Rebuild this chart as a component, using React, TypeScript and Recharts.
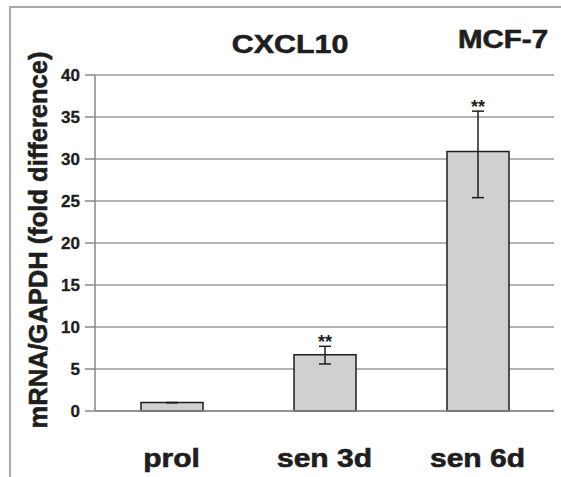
import React from "react";
import {
  BarChart,
  Bar,
  XAxis,
  YAxis,
  CartesianGrid,
  ErrorBar,
  LabelList,
} from "recharts";

// Expression data (fold difference vs. proliferating cells)
const categories = ["prol", "sen 3d", "sen 6d"];
const foldValues = [1, 6.7, 30.9];
const errLow = [0, 1.1, 5.5];
const errHigh = [0, 1.0, 4.8];
const significance = ["", "**", "**"];
const yTicks = [0, 5, 10, 15, 20, 25, 30, 35, 40];
const edgeTicks = [0, 1, 2, 3];

const chartData = categories.map((name, i) => ({
  name,
  value: foldValues[i],
  err: [errLow[i], errHigh[i]],
  stars: significance[i],
}));

const FONT = "'Liberation Sans', Arial, Helvetica, sans-serif";
const INK = "#1e1e1e";
const AXIS = "#8a8a8a";

const CategoryTick = (props: any) => {
  const { x, payload } = props;
  return (
    <text
      transform={`translate(${x},467) scale(1.2,1)`}
      textAnchor="middle"
      fontFamily={FONT}
      fontWeight="bold"
      fontSize={25}
      fill={INK}
      stroke={INK}
      strokeWidth={0.6}
    >
      {payload.value}
    </text>
  );
};

const StarLabel = (props: any) => {
  const { x, y, width, height, value, index } = props;
  if (!value) return null;
  const v = foldValues[index];
  const pxPerUnit = v ? height / v : 0;
  const top = y - errHigh[index] * pxPerUnit;
  return (
    <text
      x={x + width / 2}
      y={top + 2}
      textAnchor="middle"
      fontFamily={FONT}
      fontWeight="bold"
      fontSize={18}
      fill={INK}
    >
      {value}
    </text>
  );
};

export default function App() {
  return (
    <div
      style={{
        position: "absolute",
        left: 0,
        top: 0,
        width: 561,
        height: 477,
        overflow: "hidden",
        background: "#fff",
      }}
    >
      <div
        style={{
          position: "absolute",
          left: 9,
          top: 6,
          width: 700,
          height: 700,
          borderTop: "2px solid #a9a9a9",
          borderLeft: "2px solid #a9a9a9",
        }}
      />
      <div style={{ position: "absolute", left: 0, top: 0 }}>
        <BarChart
          width={561}
          height={477}
          data={chartData}
          margin={{ top: 75, right: 7, left: 0, bottom: 0 }}
        >
          <CartesianGrid
            vertical={false}
            stroke="#9a9a9a"
            strokeWidth={1.5}
          />
          <XAxis
            xAxisId="edges"
            type="number"
            domain={[0, 3]}
            ticks={edgeTicks}
            tick={false}
            axisLine={false}
            tickLine={{ stroke: AXIS, strokeWidth: 1.5 }}
            tickSize={9}
            height={0}
          />
          <XAxis
            dataKey="name"
            tickLine={false}
            axisLine={{ stroke: AXIS, strokeWidth: 1.5 }}
            tick={<CategoryTick />}
            height={66}
            interval={0}
          />
          <YAxis
            width={95}
            domain={[0, 40]}
            ticks={yTicks}
            interval={0}
            tickSize={10}
            tickMargin={5}
            axisLine={{ stroke: AXIS, strokeWidth: 1.5 }}
            tickLine={{ stroke: AXIS, strokeWidth: 1.5 }}
            tick={{
              fontFamily: FONT,
              fontWeight: "bold",
              fontSize: 17,
              fill: INK,
              stroke: INK,
              strokeWidth: 0.3,
            }}
          />
          <Bar
            dataKey="value"
            barSize={62}
            fill="#d0d0d0"
            stroke={INK}
            strokeWidth={1.5}
            isAnimationActive={false}
          >
            <ErrorBar
              dataKey="err"
              width={6}
              stroke={INK}
              strokeWidth={1.5}
              direction="y"
            />
            <LabelList dataKey="stars" content={<StarLabel />} />
          </Bar>
        </BarChart>
      </div>
      <svg
        width={561}
        height={477}
        style={{ position: "absolute", left: 0, top: 0, pointerEvents: "none" }}
      >
        <text
          transform="translate(290,53) scale(1.17,1)"
          textAnchor="middle"
          fontFamily={FONT}
          fontWeight="bold"
          fontSize={26}
          fill={INK}
          stroke={INK}
          strokeWidth={0.6}
        >
          CXCL10
        </text>
        <text
          transform="translate(503,48) scale(1.18,1)"
          textAnchor="middle"
          fontFamily={FONT}
          fontWeight="bold"
          fontSize={25}
          fill={INK}
          stroke={INK}
          strokeWidth={0.6}
        >
          MCF-7
        </text>
        <text
          transform="translate(47,240) rotate(-90) scale(1.02,1)"
          textAnchor="middle"
          fontFamily={FONT}
          fontWeight="bold"
          fontSize={25}
          fill={INK}
          stroke={INK}
          strokeWidth={0.6}
        >
          mRNA/GAPDH (fold difference)
        </text>
      </svg>
    </div>
  );
}
